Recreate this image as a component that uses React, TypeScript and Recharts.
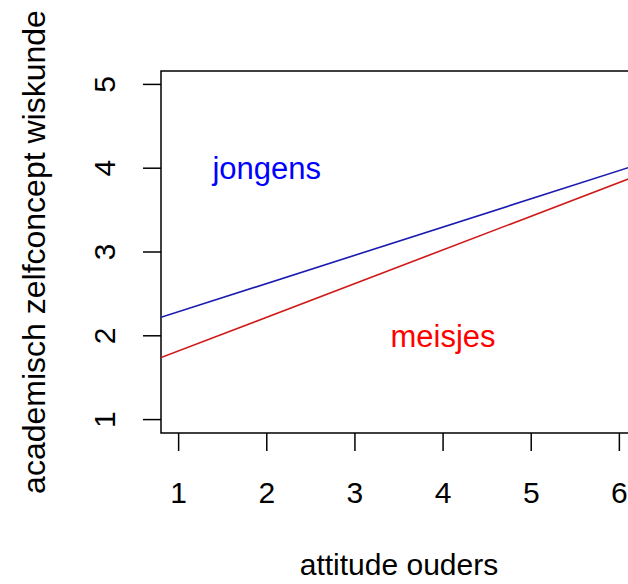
import React from 'react';
import {
  LineChart,
  Line,
  XAxis,
  YAxis,
  ReferenceArea,
  ReferenceDot,
  Label,
} from 'recharts';

// line end points read at the box edges (x = 0.8 and x = 6.2)
const attitude = [0.8, 6.2];
const jongens = [2.22, 4.04];
const meisjes = [1.74, 3.91];

const xTicks = [1, 2, 3, 4, 5, 6];
const yTicks = [1, 2, 3, 4, 5];
const xDomain = [0.8, 6.2];
const yDomain = [0.84, 5.16];

const data = attitude.map((x, i) => ({ x, jongens: jongens[i], meisjes: meisjes[i] }));

const font = '"Liberation Sans", Arial, sans-serif';

const XTick = (props: any) => {
  const { x, y, payload } = props;
  return (
    <text x={x} y={y + 50} textAnchor="middle" fontSize={30} fontFamily={font} fill="#000">
      {payload.value}
    </text>
  );
};

const YTick = (props: any) => {
  const { x, y, payload } = props;
  const bx = x - 26;
  return (
    <text
      x={bx}
      y={y}
      transform={`rotate(-90, ${bx}, ${y})`}
      textAnchor="middle"
      fontSize={30}
      fontFamily={font}
      fill="#000"
    >
      {payload.value}
    </text>
  );
};

export default function App() {
  return (
    <div style={{ position: 'absolute', left: 0, top: 0, width: 628, height: 584, overflow: 'hidden', background: '#fff' }}>
      <LineChart width={640} height={584} data={data} margin={{ top: 71, right: 3, bottom: 0, left: 0 }}>
        <XAxis
          dataKey="x"
          type="number"
          domain={xDomain}
          ticks={xTicks}
          allowDataOverflow
          height={151}
          axisLine={false}
          tickLine={{ stroke: '#000', strokeWidth: 1.5 }}
          tickSize={18}
          tick={<XTick />}
        >
          <Label
            content={(p: any) => {
              const vb = p.viewBox;
              return (
                <text x={vb.x + vb.width / 2} y={vb.y + 142} textAnchor="middle" fontSize={30} fontFamily={font} fill="#000">
                  attitude ouders
                </text>
              );
            }}
          />
        </XAxis>
        <YAxis
          type="number"
          domain={yDomain}
          ticks={yTicks}
          allowDataOverflow
          width={161}
          axisLine={false}
          tickLine={{ stroke: '#000', strokeWidth: 1.5 }}
          tickSize={18}
          tick={<YTick />}
        >
          <Label
            content={(p: any) => {
              const vb = p.viewBox;
              const cy = vb.y + vb.height / 2;
              return (
                <text x={45} y={cy} transform={`rotate(-90, 45, ${cy})`} textAnchor="middle" fontSize={32} fontFamily={font} fill="#000">
                  academisch zelfconcept wiskunde
                </text>
              );
            }}
          />
        </YAxis>
        <ReferenceArea
          x1={xDomain[0]}
          x2={xDomain[1]}
          y1={yDomain[0]}
          y2={yDomain[1]}
          fill="none"
          stroke="#000"
          strokeWidth={1.5}
          fillOpacity={0}
        />
        <Line type="linear" dataKey="jongens" stroke="#1a1ab0" strokeWidth={1.6} dot={false} isAnimationActive={false} />
        <Line type="linear" dataKey="meisjes" stroke="#d01818" strokeWidth={1.6} dot={false} isAnimationActive={false} />
        <ReferenceDot x={2} y={4} r={0} fill="none" stroke="none" label={{ value: 'jongens', position: 'center', fill: '#0000ff', fontSize: 31, fontFamily: font }} />
        <ReferenceDot x={4} y={2} r={0} fill="none" stroke="none" label={{ value: 'meisjes', position: 'center', fill: '#ff0000', fontSize: 31, fontFamily: font }} />
      </LineChart>
    </div>
  );
}
